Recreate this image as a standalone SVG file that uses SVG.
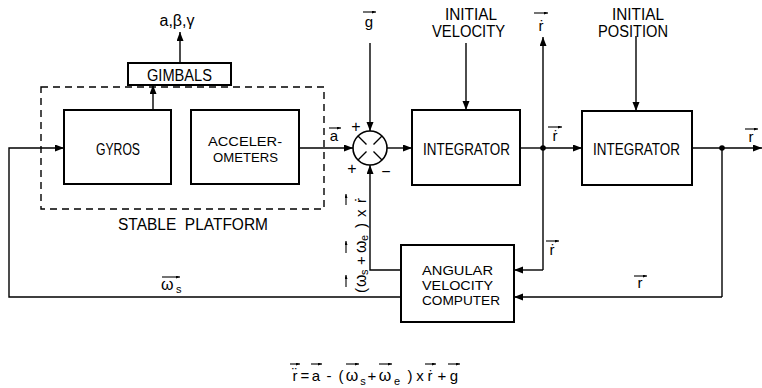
<svg xmlns="http://www.w3.org/2000/svg" width="762" height="388" viewBox="0 0 762 388">
<defs>
<marker id="ah" markerUnits="userSpaceOnUse" markerWidth="10" markerHeight="8" refX="9" refY="3.5" orient="auto"><path d="M0,0 L9,3.5 L0,7 z" fill="#000"/></marker>
<marker id="va" markerUnits="userSpaceOnUse" markerWidth="5" markerHeight="4" refX="4" refY="1.5" orient="auto"><path d="M0,0 L4,1.5 L0,3 z" fill="#000"/></marker>
<style>
text{font-family:"Liberation Sans","DejaVu Sans",sans-serif;font-size:15px;fill:#000}
.lb{font-size:16px}
.st{font-size:13.5px}
.box{fill:#fff;stroke:#000;stroke-width:2}
.ln{fill:none;stroke:#000;stroke-width:1.4}
.arr{fill:none;stroke:#000;stroke-width:1.4;marker-end:url(#ah)}
.v{fill:none;stroke:#000;stroke-width:1.1;marker-end:url(#va)}
.c{text-anchor:middle}
.sub{font-size:11px}
</style>
</defs>
<rect width="762" height="388" fill="#fff"/>

<g id="connectors">
<path class="arr" d="M180,63 L180,32"/>
<path class="arr" d="M153,110 L153,85"/>
<path class="arr" d="M299,148 L353,148"/>
<path class="arr" d="M370,43 L370,131"/>
<path class="arr" d="M387,148 L412,148"/>
<path class="arr" d="M466,43 L466,110"/>
<path class="ln" d="M520,148 L543,148"/>
<path class="arr" d="M543,148 L582,148"/>
<path class="arr" d="M543,270 L543,37"/>
<path class="arr" d="M543,270 L514,270"/>
<path class="arr" d="M636,36 L636,111"/>
<path class="arr" d="M692,148 L762,148"/>
<path class="ln" d="M722,148 L722,297"/>
<path class="arr" d="M722,297 L514,297"/>
<path class="arr" d="M401,270 L370,270 L370,165"/>
<path class="arr" d="M401,297 L9,297 L9,148 L64,148"/>
<circle cx="543" cy="148" r="2.8" fill="#000"/>
<circle cx="722" cy="148" r="2.8" fill="#000"/>
</g>

<g id="stable-platform">
<rect x="41" y="87" width="283" height="122" fill="none" stroke="#000" stroke-width="1.4" stroke-dasharray="7,5"/>
<text x="118" y="230" class="lb" textLength="150" lengthAdjust="spacingAndGlyphs">STABLE&#160;&#160;PLATFORM</text>
</g>

<g id="gimbals">
<rect class="box" x="128" y="63" width="103" height="22"/>
<text x="147" y="81" class="lb" textLength="65" lengthAdjust="spacingAndGlyphs">GIMBALS</text>
<text x="177" y="26" class="c lb">a,β,γ</text>
</g>

<g id="gyros">
<rect class="box" x="64" y="110" width="107" height="74"/>
<text x="96" y="155" class="lb" textLength="44" lengthAdjust="spacingAndGlyphs">GYROS</text>
</g>

<g id="accelerometers">
<rect class="box" x="191" y="110" width="108" height="74"/>
<text x="208" y="146" class="st" textLength="74" lengthAdjust="spacingAndGlyphs">ACCELER-</text>
<text x="213" y="162" class="st" textLength="65" lengthAdjust="spacingAndGlyphs">OMETERS</text>
</g>

<g id="sum">
<circle cx="370" cy="148" r="17" fill="#fff" stroke="#000" stroke-width="1.6"/>
<path class="ln" d="M373.5,144.5 L382,136 M366.5,144.5 L358,136 M373.5,151.5 L382,160 M366.5,151.5 L358,160"/>
<text x="356" y="132" class="c lb">+</text>
<text x="352" y="174" class="c lb">+</text>
<text x="386" y="177" class="c lb">−</text>
<text x="334" y="141" class="c">a</text>
<path class="v" d="M329,128 L341,128"/>
<text x="369" y="27" class="c">g</text>
<path class="v" d="M363,12 L376,12"/>
</g>

<g id="integrator1">
<rect class="box" x="412" y="110" width="108" height="75"/>
<text x="423" y="155" class="lb" textLength="87" lengthAdjust="spacingAndGlyphs">INTEGRATOR</text>
<text x="445" y="20" class="lb" textLength="52" lengthAdjust="spacingAndGlyphs">INITIAL</text>
<text x="432" y="37" class="lb" textLength="73" lengthAdjust="spacingAndGlyphs">VELOCITY</text>
</g>

<g id="integrator2">
<rect class="box" x="582" y="111" width="110" height="74"/>
<text x="593" y="155" class="lb" textLength="87" lengthAdjust="spacingAndGlyphs">INTEGRATOR</text>
<text x="612" y="20" class="lb" textLength="52" lengthAdjust="spacingAndGlyphs">INITIAL</text>
<text x="598" y="37" class="lb" textLength="70" lengthAdjust="spacingAndGlyphs">POSITION</text>
</g>

<g id="angular-velocity-computer">
<rect class="box" x="401" y="245" width="113" height="77"/>
<text x="422" y="275" class="st" textLength="71" lengthAdjust="spacingAndGlyphs">ANGULAR</text>
<text x="422" y="290" class="st" textLength="71" lengthAdjust="spacingAndGlyphs">VELOCITY</text>
<text x="422" y="305" class="st" textLength="78" lengthAdjust="spacingAndGlyphs">COMPUTER</text>
</g>

<g id="labels">
<text x="541" y="31" class="c">ṙ</text>
<path class="v" d="M534,13 L548,13"/>
<text x="555" y="141" class="c">ṙ</text>
<path class="v" d="M548,127 L562,127"/>
<text x="751" y="142" class="c">r</text>
<path class="v" d="M745,129 L758,129"/>
<text x="552" y="255" class="c">ṙ</text>
<path class="v" d="M546,241 L559,241"/>
<text x="640" y="288" class="c">r</text>
<path class="v" d="M634,276 L647,276"/>
<text x="161" y="290" class="lb">ω</text>
<text x="176" y="293" class="sub">s</text>
<path class="v" d="M162,277 L180,277"/>
<g transform="translate(361,241) rotate(-90)">
<text x="-52" y="5">(</text>
<text x="-46" y="5" class="lb">ω</text>
<text x="-34" y="7" class="sub">s</text>
<text x="-24" y="5">+</text>
<text x="-12" y="5" class="lb">ω</text>
<text x="0" y="7" class="sub">e</text>
<text x="13" y="5">)</text>
<text x="24" y="5">x</text>
<text x="38" y="5">ṙ</text>
<path class="v" d="M-46,-15 L-34,-15"/>
<path class="v" d="M-12,-15 L0,-15"/>
<path class="v" d="M36,-15 L47,-15"/>
</g>
</g>

<g id="equation">
<text x="295" y="381" class="c">r̈</text>
<path class="v" d="M290,364 L300,364"/>
<text x="305" y="381" class="c">=</text>
<text x="316" y="381" class="c">a</text>
<path class="v" d="M311,364 L322,364"/>
<text x="329" y="381" class="c">-</text>
<text x="341" y="381" class="c">(</text>
<text x="352" y="381" class="c lb">ω</text>
<path class="v" d="M346,364 L359,364"/>
<text x="363" y="385" class="sub c">s</text>
<text x="372" y="381" class="c">+</text>
<text x="385" y="381" class="c lb">ω</text>
<path class="v" d="M379,364 L392,364"/>
<text x="397" y="385" class="sub c">e</text>
<text x="410" y="381" class="c">)</text>
<text x="420" y="381" class="c">x</text>
<text x="430" y="381" class="c">ṙ</text>
<path class="v" d="M425,364 L436,364"/>
<text x="442" y="381" class="c">+</text>
<text x="454" y="381" class="c">g</text>
<path class="v" d="M448,364 L460,364"/>
</g>
</svg>
